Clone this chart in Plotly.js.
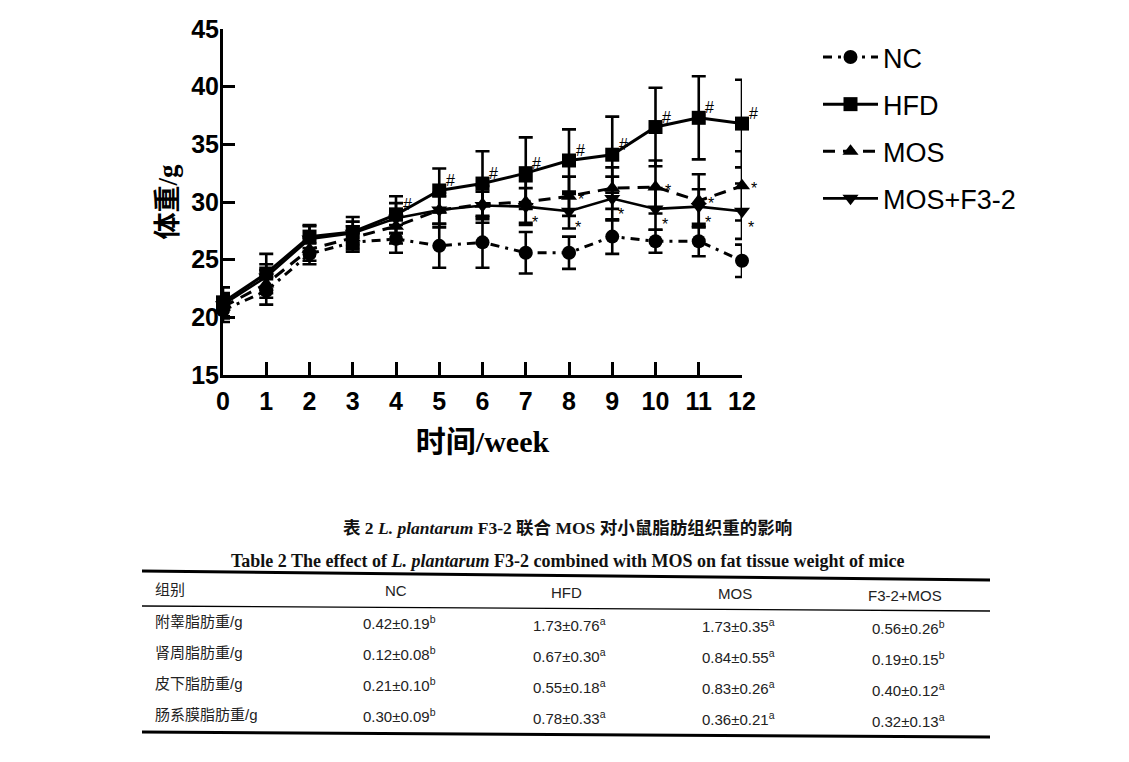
<!DOCTYPE html>
<html>
<head>
<meta charset="utf-8">
<script src="https://cdn.plot.ly/plotly-3.0.1.min.js"></script>
<style>
  html, body { margin: 0; padding: 0; background: #ffffff; }
  #chart { width: 1129px; height: 762px; }
</style>
</head>
<body>
<div id="chart"></div>
<script>
// Body weight (g) of mice by week, mean and SD for each group
const weeks = [0, 1, 2, 3, 4, 5, 6, 7, 8, 9, 10, 11, 12];

const ncMean  = [20.6, 22.3, 25.5, 26.5, 26.8, 26.2, 26.5, 25.6, 25.6, 27.0, 26.6, 26.6, 24.9];
const ncSd    = [1.0, 1.2, 0.9, 0.8, 1.2, 1.9, 2.2, 1.8, 1.4, 1.5, 1.0, 1.3, 1.4];

const hfdMean = [21.3, 23.8, 27.0, 27.4, 28.9, 31.0, 31.6, 32.5, 33.6, 34.1, 36.5, 37.3, 36.8];
const hfdSd   = [1.3, 1.7, 1.0, 1.3, 1.6, 1.9, 2.8, 3.1, 2.7, 3.3, 3.4, 3.6, 3.8];

const mosMean = [20.9, 22.9, 25.9, 26.9, 27.9, 29.3, 29.8, 30.0, 30.5, 31.2, 31.3, 30.1, 31.4];
const mosSd   = [1.0, 1.2, 1.0, 1.0, 1.5, 1.5, 1.6, 1.8, 1.7, 1.8, 2.3, 2.3, 3.0];

const mixMean = [21.1, 23.5, 26.8, 27.3, 28.6, 29.3, 29.7, 29.6, 29.2, 30.3, 29.4, 29.6, 29.2];
const mixSd   = [1.0, 1.1, 1.1, 1.0, 1.3, 1.2, 1.2, 1.6, 1.5, 1.9, 1.8, 1.5, 2.4];

// Weeks carrying a significance mark
const hfdMarkWeeks = [4, 5, 6, 7, 8, 9, 10, 11, 12];   // '#'
const mosMarkWeeks = [8, 10, 11, 12];                  // '*'
const mixMarkWeeks = [7, 8, 9, 10, 11, 12];            // '*'

const groupNames = ['NC', 'HFD', 'MOS', 'MOS+F3-2'];

// Fat tissue weight table (g)
const tableTitleCn = '表 2 <i>L. plantarum</i> F3-2 联合 MOS 对小鼠脂肪组织重的影响';
const tableTitleEn = 'Table 2 The effect of <i>L. plantarum</i> F3-2 combined with MOS on fat tissue weight of mice';
const tableHeader  = ['组别', 'NC', 'HFD', 'MOS', 'F3-2+MOS'];
const tissueLabels = ['附睾脂肪重/g', '肾周脂肪重/g', '皮下脂肪重/g', '肠系膜脂肪重/g'];
const ncFat   = [0.42, 0.12, 0.21, 0.30];
const ncFatSd = [0.19, 0.08, 0.10, 0.09];
const ncSig   = ['b', 'b', 'b', 'b'];
const hfdFat   = [1.73, 0.67, 0.55, 0.78];
const hfdFatSd = [0.76, 0.30, 0.18, 0.33];
const hfdSig   = ['a', 'a', 'a', 'a'];
const mosFat   = [1.73, 0.84, 0.83, 0.36];
const mosFatSd = [0.35, 0.55, 0.26, 0.21];
const mosSig   = ['a', 'a', 'a', 'a'];
const mixFat   = [0.56, 0.19, 0.40, 0.32];
const mixFatSd = [0.26, 0.15, 0.12, 0.13];
const mixSig   = ['b', 'b', 'a', 'a'];

// ---- page geometry helpers (pixel -> paper) ----
const W = 1129, H = 762;
const px = v => v / W;
const py = v => 1 - v / H;

function errorBars(sd) {
  return { type: 'data', array: sd, visible: true, color: '#000', thickness: 2.6, width: 7 };
}

const traces = [
  {
    x: weeks, y: ncMean, name: groupNames[0], legendgroup: 'g1',
    type: 'scatter', mode: 'lines+markers', cliponaxis: false,
    line: { color: '#000', width: 3, dash: '9px,6px,3px,6px' },
    marker: { symbol: 'circle', size: 14, color: '#000' },
    error_y: errorBars(ncSd)
  },
  {
    x: weeks, y: hfdMean, name: groupNames[1], legendgroup: 'g2',
    type: 'scatter', mode: 'lines+markers', cliponaxis: false,
    line: { color: '#000', width: 3 },
    marker: { symbol: 'square', size: 14, color: '#000' },
    error_y: errorBars(hfdSd)
  },
  {
    x: weeks, y: mosMean, name: groupNames[2], legendgroup: 'g3',
    type: 'scatter', mode: 'lines+markers', cliponaxis: false,
    line: { color: '#000', width: 3, dash: '12px,8px' },
    marker: { symbol: 'triangle-up', size: 14, color: '#000' },
    error_y: errorBars(mosSd)
  },
  {
    x: weeks, y: mixMean, name: groupNames[3], legendgroup: 'g4',
    type: 'scatter', mode: 'lines+markers', cliponaxis: false,
    line: { color: '#000', width: 2.6 },
    marker: { symbol: 'triangle-down', size: 14, color: '#000' },
    error_y: errorBars(mixSd)
  }
];

const annotations = [];

// significance marks next to the means
function addMarks(weekList, means, text, dx, dy, size) {
  weekList.forEach(w => {
    annotations.push({
      x: w, y: means[weeks.indexOf(w)], xref: 'x', yref: 'y',
      xanchor: 'center', yanchor: 'middle',
      text: text, showarrow: false, xshift: dx, yshift: dy,
      font: { family: 'Liberation Sans, Arial', size: size, color: '#000' }
    });
  });
}
addMarks(hfdMarkWeeks, hfdMean, '#', 11, 10, 16);
addMarks(mosMarkWeeks, mosMean, '*', 12, -3, 16);
addMarks(mixMarkWeeks, mixMean, '*', 9, -16, 16);

// ---- table below the chart ----
const shapes = [];
const ruleLeft = 142, ruleRight = 990;
function rule(yL, yR, w) {
  shapes.push({
    type: 'line', xref: 'paper', yref: 'paper',
    x0: px(ruleLeft), y0: py(yL), x1: px(ruleRight), y1: py(yR),
    line: { color: '#000', width: w }
  });
}
rule(571, 580, 3);
rule(606, 611, 1.4);
rule(732, 737, 3);

annotations.push({
  xref: 'paper', yref: 'paper', x: px(567), y: py(528), showarrow: false,
  xanchor: 'center', yanchor: 'middle',
  text: '<b>' + tableTitleCn + '</b>',
  font: { family: 'Liberation Serif, Noto Sans CJK SC', size: 17.5, color: '#111' }
});
annotations.push({
  xref: 'paper', yref: 'paper', x: px(567), y: py(561), showarrow: false,
  xanchor: 'center', yanchor: 'middle',
  text: '<b>' + tableTitleEn + '</b>',
  font: { family: 'Liberation Serif, Times New Roman', size: 18, color: '#111' }
});

const colX = [153, 396, 566, 735, 905];
const slope = 0.008;
const headerY = 589;
const rowY = [621, 652, 683, 714];
const cellFont = { family: 'Liberation Sans, Noto Sans CJK SC', size: 15, color: '#222' };

function cellY(base, x) { return base + (x - 150) * slope; }

tableHeader.forEach((h, i) => {
  annotations.push({
    xref: 'paper', yref: 'paper', x: px(colX[i]), y: py(cellY(headerY, colX[i])),
    xanchor: i === 0 ? 'left' : 'center', yanchor: 'middle',
    showarrow: false, text: h, font: cellFont
  });
});

const fatCols = [
  [ncFat, ncFatSd, ncSig],
  [hfdFat, hfdFatSd, hfdSig],
  [mosFat, mosFatSd, mosSig],
  [mixFat, mixFatSd, mixSig]
];

tissueLabels.forEach((lab, r) => {
  annotations.push({
    xref: 'paper', yref: 'paper', x: px(colX[0]), y: py(cellY(rowY[r], colX[0])),
    xanchor: 'left', yanchor: 'middle', showarrow: false, text: lab, font: cellFont
  });
  fatCols.forEach((col, c) => {
    const txt = col[0][r].toFixed(2) + '±' + col[1][r].toFixed(2) + '<sup>' + col[2][r] + '</sup>';
    annotations.push({
      xref: 'paper', yref: 'paper', x: px(colX[c + 1] + 3), y: py(cellY(rowY[r], colX[c + 1])),
      xanchor: 'center', yanchor: 'middle', showarrow: false, text: txt, font: cellFont
    });
  });
});

const axisFont = { family: 'Liberation Sans, Arial', size: 25, color: '#000', weight: 700 };

const layout = {
  width: W, height: H,
  margin: { l: 0, r: 0, t: 0, b: 0 },
  paper_bgcolor: '#fff', plot_bgcolor: '#fff',
  showlegend: true,
  legend: {
    x: px(818), y: py(33), xanchor: 'left', yanchor: 'top',
    font: { family: 'Liberation Sans, Arial', size: 27, color: '#000' },
    tracegroupgap: 9, itemwidth: 55, bgcolor: 'rgba(0,0,0,0)'
  },
  xaxis: {
    domain: [px(223), px(742)],
    range: [0, 12], tickmode: 'array', tickvals: weeks, ticktext: weeks.map(String),
    showline: true, linecolor: '#000', linewidth: 3,
    ticks: 'inside', ticklen: 13, tickwidth: 3, tickcolor: '#000',
    showgrid: false, zeroline: false, tickfont: axisFont, ticklabelstandoff: 2,
    title: {
      text: '时间/week', standoff: 17,
      font: { family: 'Liberation Serif, Noto Sans CJK SC', size: 30, color: '#000', weight: 700 }
    }
  },
  yaxis: {
    domain: [py(375), py(29)],
    range: [15, 45], tickmode: 'array', tickvals: [15, 20, 25, 30, 35, 40, 45],
    showline: true, linecolor: '#000', linewidth: 3,
    ticks: 'inside', ticklen: 12, tickwidth: 3, tickcolor: '#000',
    showgrid: false, zeroline: false, tickfont: axisFont, ticklabelstandoff: -4,
    title: {
      text: '体重/g', standoff: 6,
      font: { family: 'Liberation Serif, Noto Sans CJK SC', size: 27, color: '#000', weight: 700 }
    }
  },
  annotations: annotations,
  shapes: shapes
};

Plotly.newPlot('chart', traces, layout, { displayModeBar: false, staticPlot: true });
</script>
</body>
</html>
